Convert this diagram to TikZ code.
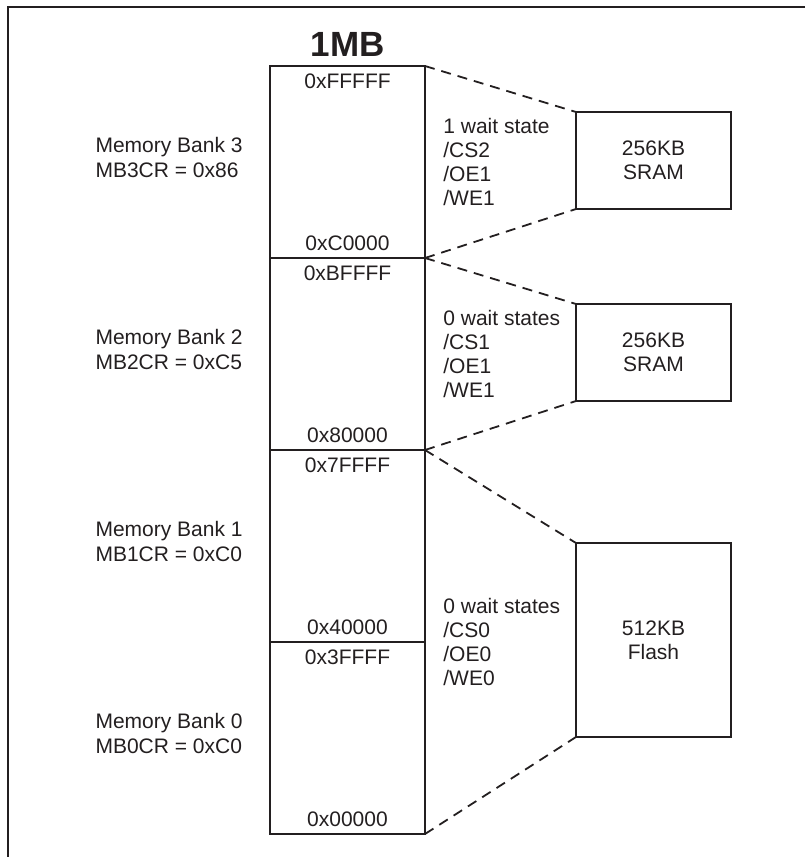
\documentclass[tikz,border=0pt]{standalone}
\usepackage{fontspec}
\setmainfont{Liberation Sans}
\usetikzlibrary{positioning}
\definecolor{ink}{HTML}{231F20}

\begin{document}
\begin{tikzpicture}[x=0.5pt, y=-0.5pt, font=\fontsize{10.5}{12}\selectfont, text=ink,
      bank/.style={draw=ink, line width=0.9pt, outer sep=0pt, minimum width=77.5pt, minimum height=96pt},
      chip/.style={draw=ink, line width=0.9pt, outer sep=0pt, minimum width=77.5pt, minimum height=48.5pt, align=center, anchor=north west},
      addr/.style={inner sep=2pt},
      info/.style={inner sep=2pt, align=left},
      reg/.style={info, font=\fontsize{10.5}{12.5}\selectfont},
      link/.style={draw=ink, line width=0.9pt, dash pattern=on 5pt off 3.5pt}]
    \useasboundingbox (0,0) rectangle (805,857);
    \draw[ink, line width=1.2pt] (805,7) -- (8,7) -- (8,857);
    % the 1MB address space
    \node[bank, anchor=north west] (bank3) at (270,66) {};
    \node[bank, below=0pt of bank3] (bank2) {};
    \node[bank, below=0pt of bank2] (bank1) {};
    \node[bank, below=0pt of bank1] (bank0) {};
    \node[inner sep=2pt, above=2.5pt of bank3.north, font=\bfseries\fontsize{17.5}{20}\selectfont] (size) {1MB};
    \node[addr, below=1.5pt of bank3.north] (top3) {0xFFFFF};
    \node[addr, above=1.5pt of bank3.south] (bot3) {0xC0000};
    \node[addr, below=1.5pt of bank2.north] (top2) {0xBFFFF};
    \node[addr, above=1.5pt of bank2.south] (bot2) {0x80000};
    \node[addr, below=1.5pt of bank1.north] (top1) {0x7FFFF};
    \node[addr, above=1.5pt of bank1.south] (bot1) {0x40000};
    \node[addr, below=1.5pt of bank0.north] (top0) {0x3FFFF};
    \node[addr, above=1.5pt of bank0.south] (bot0) {0x00000};
    % bank control registers
    \node[reg, left=11.5pt of bank3.west, yshift=2.5pt] (reg3) {Memory Bank 3\\MB3CR = 0x86};
    \node[reg, left=11.5pt of bank2.west, yshift=2.5pt] (reg2) {Memory Bank 2\\MB2CR = 0xC5};
    \node[reg, left=11.5pt of bank1.west, yshift=2.5pt] (reg1) {Memory Bank 1\\MB1CR = 0xC0};
    \node[reg, left=11.5pt of bank0.west, yshift=2.5pt] (reg0) {Memory Bank 0\\MB0CR = 0xC0};
    % devices
    \node[chip] (sram3) at (576,112) {256KB\\SRAM};
    \node[chip] (sram2) at (576,304) {256KB\\SRAM};
    \node[chip, minimum height=97pt] (flash) at (576,543) {512KB\\Flash};
    \node[info, right=7pt of bank3.east] (sig3) {1 wait state\\/CS2\\/OE1\\/WE1};
    \node[info, right=7pt of bank2.east] (sig2) {0 wait states\\/CS1\\/OE1\\/WE1};
    \node[info, right=7pt of bank1.south east] (sig0) {0 wait states\\/CS0\\/OE0\\/WE0};
    \draw[link] (bank3.north east) -- (sram3.north west);
    \draw[link] (bank3.south east) -- (sram3.south west);
    \draw[link] (bank2.north east) -- (sram2.north west);
    \draw[link] (bank2.south east) -- (sram2.south west);
    \draw[link] (bank1.north east) -- (flash.north west);
    \draw[link] (bank0.south east) -- (flash.south west);
  \end{tikzpicture}
\end{document}
